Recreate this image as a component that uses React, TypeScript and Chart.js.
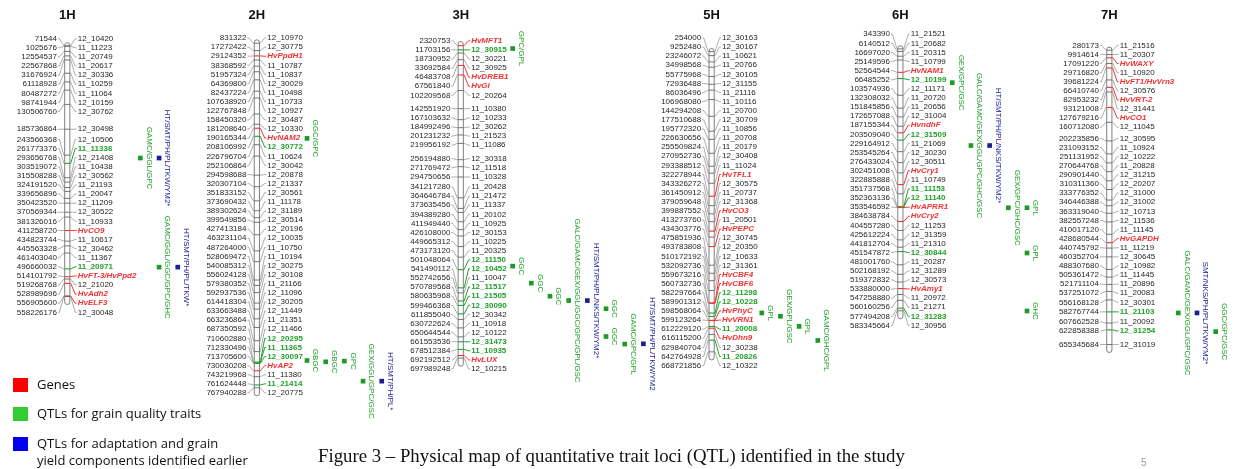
import React, { useEffect, useRef } from "react";
import { Chart, registerables } from "chart.js";

Chart.register(...registerables);

// ---------------- DATA ----------------
const CHROMOSOMES = ["1H", "2H", "3H", "5H", "6H", "7H"];

const POS_1H = [71544, 1025676, 12554537, 22567868, 31676924, 61118928, 80487272, 98741944, 130506760, 185736864, 243566368, 261773376, 293656768, 303519072, 315508288, 324191520, 339656896, 350423520, 370569344, 381326016, 411258720, 434823744, 445563328, 461403040, 496660032, 514101792, 519268768, 528989696, 556905600, 558226176];
const NAME_1H = ["12_10420", "11_11223", "11_20749", "11_20617", "12_30336", "11_10259", "11_11064", "12_10159", "12_30762", "12_30498", "12_10506", "11_11336", "12_21408", "11_10438", "12_30562", "11_21193", "11_20047", "12_11209", "12_30522", "11_10933", "HvCO9", "11_10617", "12_30462", "11_11367", "11_20971", "HvFT-3/HvPpd2", "12_21020", "HvAdh2", "HvELF3", "12_30048"];

const POS_2H = [831322, 17272422, 29124352, 38368592, 51957324, 64369800, 82437224, 107638920, 122767848, 158450320, 181208640, 190165344, 208106992, 226796704, 252106864, 294598688, 320307104, 351833152, 373690432, 389302624, 399549856, 427413184, 463231104, 487264000, 528069472, 540085312, 556024128, 579380352, 592937536, 614418304, 633663488, 663236864, 687350592, 710602880, 712330496, 713705600, 730030208, 743219968, 761624448, 767940288];
const NAME_2H = ["12_10970", "12_30775", "HvPpdH1", "11_10787", "11_10837", "12_30029", "11_10498", "11_10733", "12_10927", "12_30487", "12_10330", "HvNAM2", "12_30772", "11_10624", "12_30042", "12_20878", "12_21337", "12_30561", "11_11178", "12_31189", "12_30514", "12_20196", "12_10035", "11_10750", "11_10194", "12_30275", "12_30108", "11_21166", "12_11096", "12_30205", "12_11449", "11_21351", "12_11466", "12_20295", "11_11365", "12_30097", "HvAP2", "11_11380", "11_21414", "12_20775"];

const POS_3H = [2320753, 11703156, 18730952, 33692584, 46483708, 67561840, 102209568, 142551920, 167103632, 184992496, 201231232, 219956192, 256194880, 271769472, 294750656, 341217280, 364646784, 373635456, 394389280, 411949440, 426108000, 449665312, 473173120, 501048064, 541490112, 552742656, 570789568, 580635968, 599466368, 611855040, 630722624, 650644544, 661553536, 678512384, 692192512, 697989248];
const NAME_3H = ["HvMFT1", "12_30915", "12_30221", "12_30925", "HvDREB1", "HvGI", "12_20264", "11_10380", "12_10233", "12_30262", "11_21523", "11_11086", "12_30318", "12_11518", "11_10328", "11_20428", "11_21472", "11_11337", "11_20102", "11_10925", "12_30153", "11_10225", "11_20325", "12_11150", "12_10452", "11_10047", "12_11517", "11_21505", "12_30090", "12_30342", "11_10918", "12_10122", "12_31473", "11_10935", "HvLUX", "12_10215"];

const POS_5H = [254000, 9252480, 23246072, 34998568, 55775968, 72936488, 86036496, 106968080, 144294208, 177510688, 195772320, 226630656, 255509824, 270952736, 293388512, 322278944, 343326272, 361450912, 379059648, 399887552, 413273760, 434303776, 475851936, 493783808, 510172192, 532092736, 559673216, 560732736, 582297664, 589901312, 598568064, 599123264, 612229120, 616115200, 629840704, 642764928, 668721856];
const NAME_5H = ["12_30163", "12_30167", "11_10621", "11_20766", "12_30105", "12_31155", "11_21116", "11_10116", "11_20700", "12_30709", "11_10856", "11_20708", "11_20179", "12_30408", "11_11024", "HvTFL1", "12_30575", "11_20737", "12_31368", "HvCO3", "11_20501", "HvPEPC", "12_30745", "12_20350", "12_10633", "12_31361", "HvCBF4", "HvCBF6", "12_11298", "12_10228", "HvPhyC", "HvVRN1", "11_20008", "HvDhn9", "12_30238", "11_20826", "12_10322"];

const POS_6H = [343390, 6140512, 16697020, 25149596, 52564544, 66485252, 103574936, 132308032, 151845856, 172657088, 187155344, 203509040, 229164912, 253545264, 276433024, 302451008, 322885888, 351737568, 352363136, 353546592, 384638784, 404557280, 425612224, 441812704, 451547872, 481001760, 502168192, 519372832, 533880000, 547258880, 560160256, 577494208, 583345664];
const NAME_6H = ["11_21521", "11_20682", "11_20315", "11_10799", "HvNAM1", "12_10199", "12_11171", "11_20720", "11_20656", "12_31004", "HvndhF", "12_31509", "11_21069", "12_30230", "12_30511", "HvCry1", "11_10749", "11_11153", "12_11140", "HvAPRR1", "HvCry2", "12_11253", "12_31359", "11_21310", "12_30844", "11_20287", "12_31289", "12_30573", "HvAmy1", "11_20972", "11_21271", "12_31283", "12_30956"];

const POS_7H = [280173, 9914614, 17091220, 29716820, 39681224, 66410740, 82953232, 93121008, 127679216, 160712080, 202235856, 231093152, 251131952, 270644768, 290901440, 310311360, 333776352, 346446388, 363319040, 382557248, 410017120, 428680544, 440745792, 460352704, 488307680, 505361472, 521711104, 537251072, 556168128, 582767744, 607662528, 622858388, 655345684];
const NAME_7H = ["11_21516", "11_20307", "HvWAXY", "11_10920", "HvFT1/HvVrn3", "12_30576", "HvVRT-2", "12_31441", "HvCO1", "12_11045", "12_30595", "11_10924", "12_10222", "11_20828", "12_31215", "12_20207", "12_31000", "12_31002", "12_10713", "12_11536", "11_11145", "HvGAPDH", "11_11219", "12_30645", "12_10982", "11_11445", "11_20896", "11_20083", "12_30301", "11_21103", "11_20092", "12_31254", "12_31019"];

// markers linked with grain quality QTLs (drawn green)
const QTL_MARKERS = ["11_11336", "11_20971", "12_30772", "12_20295", "11_11365", "12_30097", "11_21414", "12_30915", "12_11150", "12_10452", "12_11517", "11_21505", "12_30090", "12_31473", "11_10935", "12_11298", "12_10228", "11_20008", "11_20826", "12_10199", "12_31509", "11_11153", "12_11140", "12_30844", "12_31283", "11_21103", "12_31254"];

// QTLs: chromosome index, position (Mbp), traits, kind (Q = grain quality, A = adaptation / yield)
const QTL_CHROM = [0, 0, 0, 0, 1, 1, 1, 1, 1, 1, 2, 2, 2, 2, 2, 2, 2, 2, 2, 2, 3, 3, 3, 3, 4, 4, 4, 4, 4, 4, 4, 5, 5, 5];
const QTL_MBP = [249.9, 249.9, 492.8, 492.8, 212.7, 707.2, 710.1, 708.5, 753.2, 753.2, 8.75, 493.2, 531.1, 560.2, 569.8, 569.8, 588.0, 649.9, 666.7, 666.1, 582.1, 589.5, 612.0, 643.3, 75.5, 215.5, 215.5, 354.0, 354.0, 454.7, 583.8, 585.1, 585.1, 626.7];
const QTL_TRAITS = ["GAMC/GGL/GPC", "HT/SMT/PH/PL/TKW/YM2*", "GAMC/GGL/GGC/GPC/GHC", "HT/SMT/PH/PL/TKW*",
  "GGC/GPC", "GBGC", "GBGC", "GPC", "GEX/GGL/GPC/GSC", "HT/SMT/PH/PL*",
  "GPC/GPL", "GGC", "GGC", "GGC", "GALC/GAMC/GEX/GGL/GGC/GPC/GPL/GSC", "HT/SMT/PH/PL/NKS/TKW/YM2*", "GGC", "GGC", "GAMC/GPC/GPL", "HT/SMT/PH/PL/TKW/YM2",
  "GPL", "GEX/GPL/GSC", "GPL", "GAMC/GHC/GPL",
  "GEX/GPC/GSC", "GALC/GAMC/GEX/GGL/GPC/GHC/GSC", "HT/SMT/PH/PL/NKS/TKW/YM2*", "GEX/GPC/GHC/GSC", "GPL", "GPL", "GHC",
  "GALC/GAMC/GEX/GGL/GPC/GSC", "SMT/NKS/PH/PL/TKW/YM2*", "GGC/GPC/GSC"];
const QTL_KIND = ["Q", "A", "Q", "A", "Q", "Q", "Q", "Q", "Q", "A", "Q", "Q", "Q", "Q", "Q", "A", "Q", "Q", "Q", "A", "Q", "Q", "Q", "Q", "Q", "Q", "A", "Q", "Q", "Q", "Q", "Q", "A", "Q"];

const LEGEND_LABELS = [["Genes"], ["QTLs for grain quality traits"], ["QTLs for adaptation and grain", "yield components identified earlier"]];
const CAPTION = "Figure 3 \u2013 Physical map of quantitative trait loci (QTL) identified in the study";
const PAGE_NO = "5";

// ---------------- LAYOUT / STYLE ----------------
const CHROM_POS = [POS_1H, POS_2H, POS_3H, POS_5H, POS_6H, POS_7H];
const CHROM_NAMES = [NAME_1H, NAME_2H, NAME_3H, NAME_5H, NAME_6H, NAME_7H];
const QTL_LANE = [0, 1, 1, 2, 0, 0, 1, 2, 3, 4, 0, 0, 1, 2, 3, 4, 5, 5, 6, 7, 0, 1, 2, 3, 0, 1, 2, 3, 4, 4, 4, 0, 1, 2];

const W = 1240;
const H = 469;
const COLUMN_X = [63.7, 254.5, 459.7, 712.2, 902.2, 1112.5];
const CHROM_SHIFT_PX = [2.5, -0.5, 1.3, 8.3, 5.5, 6.9];
const PX_PER_MBP = 0.457;
const ORIGIN_PX = 40;
const Y_MIN = -ORIGIN_PX / PX_PER_MBP;
const Y_MAX = Y_MIN + H / PX_PER_MBP;
const SHIFT_MBP = CHROM_SHIFT_PX.map((v) => v / PX_PER_MBP);
const LABEL_GAP = 9.1;
const LABEL_OFF = 10.4;
const BAR_HALF = 2.6;
const LANE_GAP = 18.8;
const LANE_PAD = 4.5;

const SANS = "'Liberation Sans', Arial, sans-serif";
const COLORS = {
  text: "#262626",
  line: "#8a8a8a",
  bar: "#707070",
  tick: "#505050",
  red: "#f03434",
  green: "#22a02a",
  blue: "#22229a",
  qGreen: "#1e9a26",
  qBlue: "#1e1e8e",
  legend: ["#ff0000", "#33cc33", "#0000ee"],
};

const isGene = (n: string) => n.startsWith("Hv");
const isQtlMarker = (n: string) => QTL_MARKERS.includes(n);
const markerFont = (n: string) =>
  isGene(n) ? `italic bold 8px ${SANS}` : isQtlMarker(n) ? `bold 8px ${SANS}` : `8px ${SANS}`;
const markerColor = (n: string) => (isGene(n) ? COLORS.red : isQtlMarker(n) ? COLORS.green : COLORS.text);

function layoutLabels(desired: number[], gap: number): number[] {
  let clusters = desired.map((_, i) => ({ s: i, e: i }));
  const top = (c: { s: number; e: number }) => (desired[c.s] + desired[c.e]) / 2 - ((c.e - c.s) * gap) / 2;
  let changed = true;
  while (changed) {
    changed = false;
    for (let i = 1; i < clusters.length; i++) {
      const a = clusters[i - 1];
      const b = clusters[i];
      const aBottom = top(a) + (a.e - a.s) * gap;
      if (top(b) - aBottom < gap - 1e-6) {
        clusters.splice(i - 1, 2, { s: a.s, e: b.e });
        changed = true;
        break;
      }
    }
  }
  const out: number[] = new Array(desired.length);
  clusters.forEach((c) => {
    const t = top(c);
    for (let k = c.s; k <= c.e; k++) out[k] = t + (k - c.s) * gap;
  });
  return out;
}

const mapPlugin = {
  id: "physicalMap",
  afterDatasetsDraw(chart: any) {
    const ctx: CanvasRenderingContext2D = chart.ctx;
    const xs = chart.scales.x;
    const ys = chart.scales.y;
    ctx.save();

    CHROMOSOMES.forEach((title, ci) => {
      const cx = xs.getPixelForValue(COLUMN_X[ci]);
      const pos = CHROM_POS[ci];
      const names = CHROM_NAMES[ci];
      const py = pos.map((p) => ys.getPixelForValue(p / 1e6 + SHIFT_MBP[ci]));
      const ly = layoutLabels(py, LABEL_GAP);

      // title
      ctx.fillStyle = "#111";
      ctx.font = `bold 13px ${SANS}`;
      ctx.textAlign = "center";
      ctx.textBaseline = "middle";
      ctx.fillText(title, cx, 15);

      // chromosome bar
      const top = ys.getPixelForValue(0 + SHIFT_MBP[ci]) - 3;
      const bottom = py[py.length - 1] + 8;
      ctx.beginPath();
      ctx.roundRect(cx - BAR_HALF, top, BAR_HALF * 2, bottom - top, BAR_HALF);
      ctx.fillStyle = "#fff";
      ctx.fill();
      ctx.lineWidth = 0.9;
      ctx.strokeStyle = COLORS.bar;
      ctx.stroke();

      pos.forEach((p, i) => {
        const n = names[i];
        const y0 = ly[i];
        const y1 = py[i];
        const special = isGene(n) || isQtlMarker(n);
        const col = markerColor(n);
        // left connector
        ctx.lineWidth = 0.7;
        ctx.strokeStyle = COLORS.line;
        ctx.beginPath();
        ctx.moveTo(cx - LABEL_OFF + 1, y0);
        ctx.lineTo(cx - LABEL_OFF + 2.5, y0);
        ctx.lineTo(cx - BAR_HALF - 0.8, y1);
        ctx.lineTo(cx - BAR_HALF, y1);
        ctx.stroke();
        // right connector
        ctx.lineWidth = special ? 1 : 0.7;
        ctx.strokeStyle = special ? col : COLORS.line;
        ctx.beginPath();
        ctx.moveTo(cx + BAR_HALF, y1);
        ctx.lineTo(cx + BAR_HALF + 0.8, y1);
        ctx.lineTo(cx + LABEL_OFF - 2.5, y0);
        ctx.lineTo(cx + LABEL_OFF - 1, y0);
        ctx.stroke();
        // tick across bar
        ctx.lineWidth = special ? 1.1 : 0.8;
        ctx.strokeStyle = special ? col : COLORS.tick;
        ctx.beginPath();
        ctx.moveTo(cx - BAR_HALF, y1);
        ctx.lineTo(cx + BAR_HALF, y1);
        ctx.stroke();

        // labels
        ctx.textBaseline = "middle";
        ctx.textAlign = "right";
        ctx.font = `8px ${SANS}`;
        ctx.fillStyle = COLORS.text;
        ctx.fillText(String(p), cx - LABEL_OFF, y0);
        ctx.textAlign = "left";
        ctx.font = markerFont(n);
        ctx.fillStyle = col;
        ctx.fillText(n, cx + LABEL_OFF, y0);
      });
    });

    // QTL trait labels (vertical)
    const meta = chart.getDatasetMeta(0);
    meta.data.forEach((pt: any, i: number) => {
      ctx.save();
      ctx.translate(pt.x + 8.5, pt.y);
      ctx.rotate(Math.PI / 2);
      ctx.font = `8px ${SANS}`;
      ctx.fillStyle = QTL_KIND[i] === "Q" ? COLORS.green : COLORS.blue;
      ctx.textAlign = "center";
      ctx.textBaseline = "middle";
      ctx.fillText(QTL_TRAITS[i], 0, 0);
      ctx.restore();
    });

    // legend
    const legendY = [[385], [414], [444, 461]];
    const boxY = [378, 407, 437];
    LEGEND_LABELS.forEach((lines, i) => {
      ctx.fillStyle = COLORS.legend[i];
      ctx.fillRect(13, boxY[i], 15, 14);
      ctx.fillStyle = "#111";
      ctx.font = `13px 'Open Sans', ${SANS}`;
      ctx.textAlign = "left";
      ctx.textBaseline = "middle";
      lines.forEach((t, k) => ctx.fillText(t, 37, legendY[i][k]));
    });

    // caption
    ctx.fillStyle = "#111";
    ctx.font = "18.8px 'Liberation Serif', 'Times New Roman', serif";
    ctx.textAlign = "left";
    ctx.textBaseline = "middle";
    ctx.fillText(CAPTION, 318, 457);

    ctx.fillStyle = "#9a9a9a";
    ctx.font = `10px ${SANS}`;
    ctx.fillText(PAGE_NO, 1141, 463);

    ctx.restore();
  },
};

export default function App() {
  const ref = useRef<HTMLCanvasElement>(null);

  useEffect(() => {
    const canvas = ref.current;
    if (!canvas) return;
    const mctx = document.createElement("canvas").getContext("2d") as CanvasRenderingContext2D;
    const laneStart = CHROMOSOMES.map((_, ci) => {
      let w = 0;
      CHROM_NAMES[ci].forEach((n) => {
        mctx.font = markerFont(n);
        w = Math.max(w, mctx.measureText(n).width);
      });
      return COLUMN_X[ci] + LABEL_OFF + w + LANE_PAD;
    });
    const points = QTL_MBP.map((m, i) => ({
      x: laneStart[QTL_CHROM[i]] + QTL_LANE[i] * LANE_GAP,
      y: m + SHIFT_MBP[QTL_CHROM[i]],
    }));

    const chart = new Chart(canvas, {
      type: "scatter",
      data: {
        datasets: [
          {
            label: "QTL",
            data: points,
            pointStyle: "rect",
            pointRadius: 3.3,
            pointBorderWidth: 0,
            pointBackgroundColor: QTL_KIND.map((k) => (k === "Q" ? COLORS.qGreen : COLORS.qBlue)),
            clip: false,
          } as any,
        ],
      },
      options: {
        animation: false,
        responsive: false,
        devicePixelRatio: 1,
        events: [],
        layout: { padding: 0 },
        scales: {
          x: { type: "linear", min: 0, max: W, display: false },
          y: { type: "linear", reverse: true, min: Y_MIN, max: Y_MAX, display: false },
        },
        plugins: { legend: { display: false }, tooltip: { enabled: false } },
      },
      plugins: [mapPlugin],
    });
    return () => chart.destroy();
  }, []);

  return (
    <div style={{ position: "absolute", left: 0, top: 0, width: W, height: H, background: "#fff" }}>
      <canvas ref={ref} width={W} height={H} style={{ display: "block" }} />
    </div>
  );
}
